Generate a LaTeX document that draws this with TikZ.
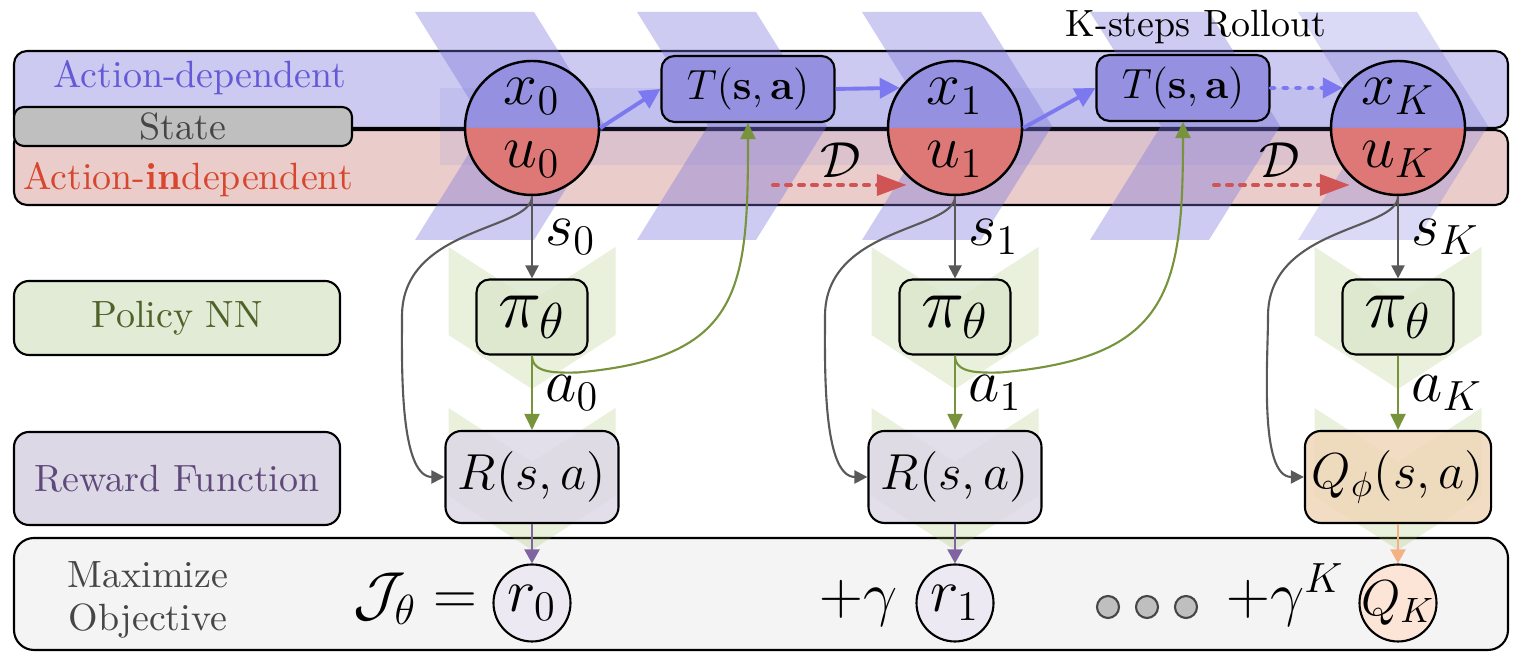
\documentclass[tikz,border=0pt]{standalone}
\usepackage{amsmath}
\usepackage{amssymb}
\usetikzlibrary{arrows.meta}

\definecolor{bandblue}{RGB}{204,202,240}
\definecolor{bandred}{RGB}{234,205,203}
\definecolor{xtop}{RGB}{149,144,224}
\definecolor{ubot}{RGB}{222,120,118}
\definecolor{chevblue}{RGB}{120,115,220}
\definecolor{chevgreen}{RGB}{155,187,89}
\definecolor{txtblue}{RGB}{100,90,215}
\definecolor{txtred}{RGB}{215,70,45}
\definecolor{txtgray}{RGB}{70,70,70}
\definecolor{stategray}{RGB}{191,191,191}
\definecolor{polside}{RGB}{226,235,214}
\definecolor{polfill}{RGB}{220,231,206}
\definecolor{poltxt}{RGB}{79,98,40}
\definecolor{rewfill}{RGB}{221,216,230}
\definecolor{rewtxt}{RGB}{95,73,122}
\definecolor{qfill}{RGB}{240,214,184}
\definecolor{rcircfill}{RGB}{236,233,242}
\definecolor{qcircfill}{RGB}{252,228,214}
\definecolor{objfill}{RGB}{244,244,244}
\definecolor{arrgray}{RGB}{89,89,89}
\definecolor{arrgreen}{RGB}{119,147,60}
\definecolor{arrblue}{RGB}{123,120,240}
\definecolor{arrred}{RGB}{208,84,84}
\definecolor{arrpurple}{RGB}{128,100,162}
\definecolor{arrorange}{RGB}{244,177,131}

\newcommand{\labfont}{\fontsize{10.8pt}{12.4pt}\selectfont}
\newcommand{\varfont}{\fontsize{18.5pt}{22pt}\selectfont}
\newcommand{\pifont}{\fontsize{20pt}{24pt}\selectfont}

\begin{document}
\begin{tikzpicture}[scale=1.0, every node/.style={font=\labfont, inner sep=2pt},
  band/.style={draw, line width=0.6pt, rounded corners=1.3mm},
  sidebox/.style={draw, line width=0.6pt, rounded corners=1.5mm, minimum width=3.26cm},
  statecirc/.style={circle, draw, line width=0.7pt, minimum size=1.34cm, inner sep=0pt},
  varlab/.style={font=\varfont, inner sep=0pt, anchor=base},
  tbox/.style={draw, line width=0.6pt, rounded corners=1.3mm, fill=xtop, minimum width=1.73cm, minimum height=0.66cm, font=\large},
  pibox/.style={draw, line width=0.6pt, rounded corners=1.3mm, fill=polfill, fill opacity=0.85, text opacity=1, minimum width=1.11cm, minimum height=0.75cm, inner sep=1pt, font=\pifont},
  rbox/.style={draw, line width=0.6pt, rounded corners=1.6mm, fill=rewfill, fill opacity=0.85, text opacity=1, minimum width=1.73cm, minimum height=0.92cm, font=\Large},
  qbox/.style={rbox, fill=qfill},
  rcirc/.style={circle, draw, line width=0.6pt, minimum size=0.77cm, inner sep=0pt, fill=rcircfill, font=\LARGE},
  dotc/.style={circle, draw=txtgray, line width=0.6pt, fill=stategray, minimum size=0.22cm, inner sep=0pt},
  greenchev/.style={fill=chevgreen, fill opacity=0.22},
  garr/.style={arrgray, line width=0.6pt, -{Triangle[length=1.3mm, width=1.3mm]}},
  grarr/.style={arrgreen, line width=0.6pt, -{Triangle[length=1.6mm, width=1.5mm]}},
  barr/.style={arrblue, line width=1.1pt, -{Triangle[length=2mm, width=2mm]}},
  rarr/.style={arrred, line width=1.15pt, line cap=round, dash pattern=on 1.4pt off 2.3pt, -{Triangle[length=3mm, width=2.1mm]}},
  parr/.style={line width=0.6pt, -{Triangle[length=1.4mm, width=1.5mm]}}]
\useasboundingbox (0,0) rectangle (15.15,6.68);
% --- state bands ---
\draw[band, fill=bandblue] (0.14,5.40) rectangle (15.08,6.17);
\draw[band, fill=bandred] (0.14,4.63) rectangle (15.08,5.38);
% --- objective box ---
\draw[draw, line width=0.6pt, rounded corners=2mm, fill=objfill] (0.14,0.18) rectangle (15.08,1.30);
% --- chevrons ---
\foreach \lx/\op in {4.15/0.37, 6.37/0.37, 8.62/0.37, 10.90/0.37, 12.98/0.27}
  \fill[chevblue, fill opacity=\op] (\lx,6.56) -- ++(1.19,0) -- ++(0.71,-1.14) -- ++(-0.71,-1.14) -- ++(-1.19,0) -- ++(0.71,1.14) -- cycle;
\fill[chevblue, fill opacity=0.12] (4.40,5.03) rectangle (13.98,5.80);
\foreach \cx in {5.32, 9.55, 13.98} {
  \fill[greenchev] (\cx,4.21) ++(-0.835,0) -- ++(0.835,-0.54) -- ++(0.835,0.54) -- ++(0,-0.88) -- ++(-0.835,-0.54) -- ++(-0.835,0.54) -- cycle;
  \fill[greenchev] (\cx,2.60) ++(-0.835,0) -- ++(0.835,-0.54) -- ++(0.835,0.54) -- ++(0,-0.88) -- ++(-0.835,-0.54) -- ++(-0.835,0.54) -- cycle;
}
% --- left labels ---
\node[text=txtblue] (adlab) at (2.00,5.90) {Action-dependent};
\node[text=txtred] (ailab) at (1.88,4.88) {Action-\textbf{in}dependent};
\node[draw, line width=0.6pt, fill=stategray, rounded corners=1mm, minimum width=3.38cm, minimum height=0.39cm, inner sep=0pt, text=txtgray] (state) at (1.83,5.415) {State};
\node[sidebox, fill=polside, minimum height=0.74cm, text=poltxt] (polnn) at (1.77,3.50) {Policy NN};
\node[sidebox, fill=rewfill, minimum height=0.93cm, text=rewtxt] (rewfn) at (1.77,1.895) {Reward Function};
\node[text=txtgray, align=center] (maxobj) at (1.48,0.68) {Maximize\\Objective};
% --- rollout states ---
\foreach \nm/\cx/\ix in {c0/5.32/0, c1/9.55/1, cK/13.98/K} {
  \fill[xtop] (\cx,5.40) ++(0.67,0) arc[start angle=0, end angle=180, radius=0.67] -- cycle;
  \fill[ubot] (\cx,5.40) ++(-0.67,0) arc[start angle=180, end angle=360, radius=0.67] -- cycle;
  \node[statecirc] (\nm) at (\cx,5.40) {};
  \node[varlab] (x\nm) at (\cx,5.63) {$x_{\ix}$};
  \node[varlab] (u\nm) at (\cx,5.00) {$u_{\ix}$};
}
\node[tbox] (t1) at (7.48,5.79) {$T(\mathbf{s},\mathbf{a})$};
\node[tbox] (t2) at (11.83,5.80) {$T(\mathbf{s},\mathbf{a})$};
\node (kroll) at (11.96,6.41) {K-steps Rollout};
\node[font=\Large] (dl1) at (8.41,5.08) {$\mathcal{D}$};
\node[font=\Large] (dlK) at (12.80,5.08) {$\mathcal{D}$};
% --- policy and reward ---
\node[pibox] (p0) at (5.32,3.51) {$\pi_\theta$};
\node[pibox] (p1) at (9.55,3.51) {$\pi_\theta$};
\node[pibox] (pK) at (13.98,3.51) {$\pi_\theta$};
\node[rbox] (r0) at (5.32,1.91) {$R(s,a)$};
\node[rbox] (r1) at (9.55,1.91) {$R(s,a)$};
\node[qbox] (qK) at (13.98,1.91) {$Q_\phi(s,a)$};
% --- objective ---
\node[rcirc] (o0) at (5.32,0.65) {$r_0$};
\node[rcirc] (o1) at (9.55,0.65) {$r_1$};
\node[rcirc, fill=qcircfill] (oK) at (13.98,0.65) {};
\node[font=\Large, inner sep=0pt] (qKlab) at (oK) {$Q_K$};
\node[anchor=base east, font=\LARGE] (jobj) at (4.85,0.53) {$\mathcal{J}_\theta =$};
\node[anchor=base east, font=\LARGE] (gam1) at (9.05,0.53) {$+\gamma$};
\node[anchor=base east, font=\LARGE] (gamK) at (13.52,0.53) {$+\gamma^K$};
\node[dotc] (dt1) at (11.08,0.61) {};
\node[dotc] (dt2) at (11.47,0.61) {};
\node[dotc] (dt3) at (11.86,0.61) {};
% --- connectors ---
\draw[barr] (c0.east) -- (t1.west);
\draw[barr] (t1.east) -- (c1.144);
\draw[barr] (c1.east) -- (t2.west);
\draw[barr, line cap=round, dash pattern=on 1.2pt off 2.4pt] (t2.east) -- (cK.144);
\coordinate (d1) at (7.73,4.83);
\coordinate (dK) at (12.14,4.83);
\draw[rarr] (d1) -- (d1 -| c1.225);
\draw[rarr] (dK) -- (dK -| cK.225);
\foreach \cc/\pp/\rr/\ix in {c0/p0/r0/0, c1/p1/r1/1, cK/pK/qK/K} {
  \draw[garr] (\cc.south) -- node[right=1.5pt, font=\varfont, text=black] (s\ix) {$s_{\ix}$} (\pp.north);
  \draw[grarr] (\pp.south) -- node[right=1.5pt, font=\varfont, text=black] (a\ix) {$a_{\ix}$} (\rr.north);
  \draw[garr] (\cc.south) to[out=-90, in=90, out looseness=0.5, in looseness=1.3] ++(-1.30,-1.2) to[out=-90, in=180, looseness=0.7] (\rr.west);
}
\draw[grarr] (p0.south) to[out=-90, in=180] ++(0.45,-0.17) to[out=5, in=-90, looseness=1.4] (t1.south);
\draw[grarr] (p1.south) to[out=-90, in=180] ++(0.45,-0.17) to[out=5, in=-90, looseness=1.4] (t2.south);
\draw[parr, arrpurple] (r0.south) -- (o0.north);
\draw[parr, arrpurple] (r1.south) -- (o1.north);
\draw[parr, arrorange] (qK.south) -- (oK.north);
\end{tikzpicture}
\end{document}
